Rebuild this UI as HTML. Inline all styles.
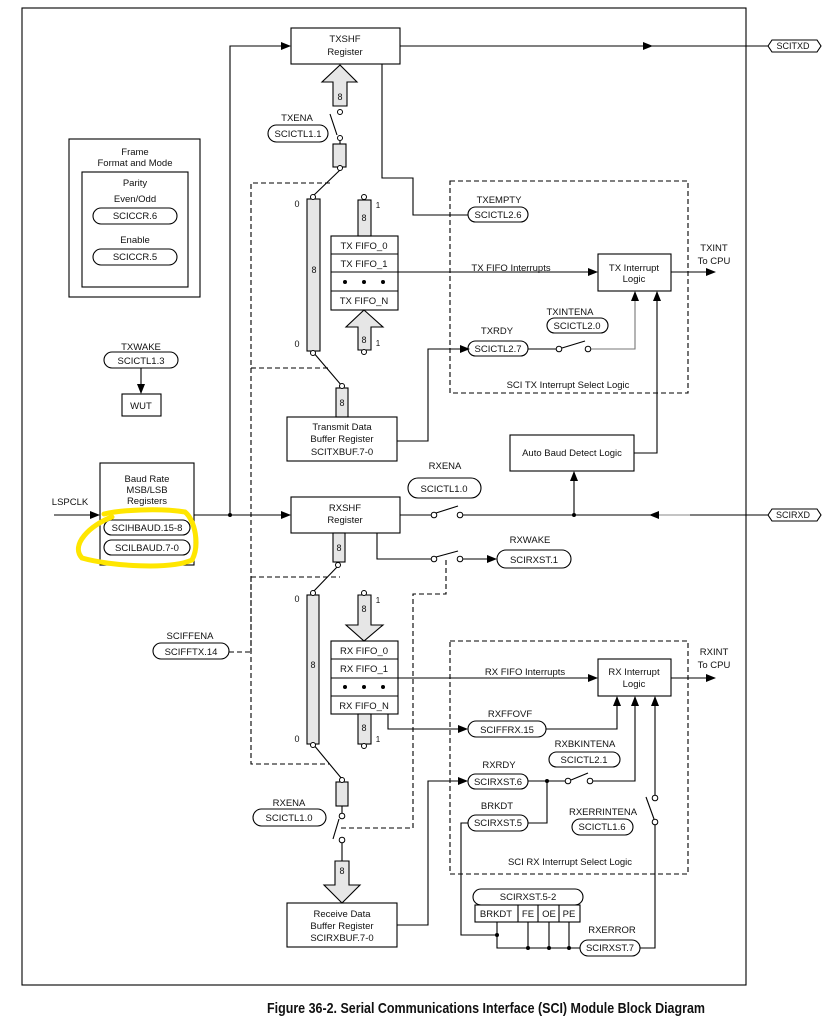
<!DOCTYPE html>
<html><head><meta charset="utf-8"><style>
html,body{margin:0;padding:0;background:#fff;}
svg{display:block;font-family:"Liberation Sans",Arial,sans-serif;}
text{font-size:9.5px;fill:#111;text-anchor:middle;}
</style></head><body>
<svg width="825" height="1022" viewBox="0 0 825 1022" xmlns="http://www.w3.org/2000/svg">
<defs>
<marker id="a" markerWidth="10" markerHeight="8" refX="9" refY="4" orient="auto" markerUnits="userSpaceOnUse"><path d="M0,0 L10,4 L0,8 z" fill="#000"/></marker>
</defs>
<g fill="none" stroke="#000" stroke-width="1.1">
<!-- outer frame -->
<rect x="22" y="8" width="724" height="977"/>
<!-- frame format box -->
<rect x="69" y="139" width="131" height="158"/>
<rect x="82" y="172" width="106" height="115"/>
<rect x="93" y="208" width="84" height="16" rx="8"/>
<rect x="93" y="249" width="84" height="16" rx="8"/>
<rect x="104" y="352" width="74" height="16" rx="8"/>
<line x1="141" y1="368" x2="141" y2="393" marker-end="url(#a)"/>
<rect x="122" y="394" width="39" height="22"/>
<!-- baud -->
<rect x="100" y="463" width="94" height="102"/>
<rect x="104" y="520" width="86" height="15" rx="7.5"/>
<rect x="104" y="540" width="86" height="15" rx="7.5"/>
<line x1="54" y1="515" x2="99" y2="515" marker-end="url(#a)"/>
<line x1="194" y1="515" x2="290" y2="515" marker-end="url(#a)"/>
<path d="M230 515 V46 H290" marker-end="url(#a)"/>
<!-- TXSHF -->
<rect x="291" y="28" width="109" height="36"/>
<line x1="400" y1="46" x2="652" y2="46" marker-end="url(#a)"/>
<line x1="650" y1="46" x2="768" y2="46"/>
<path d="M768 46 L772 40 H817 L821 46 L817 52 H772 Z"/>
<!-- TX to TXEMPTY -->
<path d="M382 64 V178 H413 V215 H468"/>
<rect x="468" y="207" width="60" height="15" rx="7.5"/>
<!-- TXENA pill -->
<rect x="268" y="125" width="60" height="17" rx="8.5"/>
<!-- switch -->
<line x1="330" y1="114" x2="337" y2="135"/>
<rect x="333" y="144" width="13" height="23" fill="#e6e6e6"/>
<line x1="340" y1="141" x2="340" y2="144"/>
<line x1="340" y1="170" x2="313" y2="196"/>
<!-- tall TX bar -->
<rect x="307" y="199" width="13" height="152" fill="#e6e6e6"/>
<line x1="313" y1="352" x2="342" y2="386"/>
<rect x="336" y="388" width="12" height="29" fill="#e6e6e6"/>
<rect x="287" y="417" width="110" height="44"/>
<path d="M397 441 H428 V349 H469" marker-end="url(#a)"/>
<!-- TX fifo -->
<rect x="358" y="200" width="13" height="36" fill="#e6e6e6"/>
<rect x="331" y="236" width="67" height="74"/>
<line x1="331" y1="254" x2="398" y2="254"/><line x1="331" y1="272" x2="398" y2="272"/><line x1="331" y1="291" x2="398" y2="291"/>
<path d="M364 310 L383 327 H371 V350 H358 V327 H346 Z" fill="#e6e6e6"/>
<path d="M340 65 L357 82 H347 V106 H333 V82 H322 Z" fill="#e6e6e6"/>
<!-- TX dashed -->
<g stroke-dasharray="5,3">
<path d="M330 183 H251 V652"/>
<path d="M251 368 H330"/>
<rect x="450" y="181" width="238" height="212"/>
<path d="M251 577 H340"/>
<path d="M251 577 V764 H330"/>
<path d="M229 652 H251"/>
<path d="M446 560 V594 H413 V828 H338"/>
<rect x="450" y="641" width="238" height="233"/>
</g>
<line x1="398" y1="272" x2="597" y2="272" marker-end="url(#a)"/>
<rect x="598" y="254" width="73" height="37"/>
<line x1="671" y1="272" x2="715" y2="272" marker-end="url(#a)"/>
<rect x="547" y="318" width="61" height="15" rx="7.5"/>
<rect x="468" y="341" width="60" height="15" rx="7.5"/>
<line x1="528" y1="349" x2="557" y2="349"/>
<line x1="562" y1="348" x2="585" y2="341"/>
<path d="M590 349 H635 V292" stroke="#777" marker-end="url(#a)"/>
<rect x="510" y="435" width="124" height="36"/>
<path d="M634 453 H657 V292" marker-end="url(#a)"/>
<line x1="574" y1="515" x2="574" y2="472" marker-end="url(#a)"/>
<!-- RXSHF -->
<rect x="291" y="497" width="109" height="36"/>
<rect x="408" y="478" width="73" height="20" rx="10"/>
<line x1="400" y1="515" x2="432" y2="515"/>
<line x1="436" y1="513" x2="458" y2="506"/>
<line x1="462" y1="515" x2="768" y2="515"/>
<line x1="690" y1="515" x2="650" y2="515" stroke="#888" marker-end="url(#a)"/>
<path d="M768 515 L772 509 H817 L821 515 L817 521 H772 Z"/>
<path d="M377 533 V559 H431"/>
<line x1="436" y1="557" x2="458" y2="551"/>
<line x1="463" y1="559" x2="496" y2="559" marker-end="url(#a)"/>
<rect x="497" y="550" width="74" height="18" rx="9"/>
<rect x="333" y="533" width="12" height="29" fill="#e6e6e6"/>
<line x1="338" y1="566" x2="313" y2="592"/>
<rect x="307" y="595" width="12" height="149" fill="#e6e6e6"/>
<rect x="153" y="643" width="76" height="16" rx="8"/>
<path d="M364 595 V595 M358 595 H371 V625 H383 L364 641 L346 625 H358 Z" fill="#e6e6e6"/>
<rect x="331" y="641" width="67" height="73"/>
<line x1="331" y1="659" x2="398" y2="659"/><line x1="331" y1="678" x2="398" y2="678"/><line x1="331" y1="696" x2="398" y2="696"/>
<rect x="358" y="714" width="13" height="30" fill="#e6e6e6"/>
<line x1="398" y1="678" x2="597" y2="678" marker-end="url(#a)"/>
<rect x="598" y="659" width="73" height="37"/>
<line x1="671" y1="678" x2="715" y2="678" marker-end="url(#a)"/>
<path d="M388 714 V729 H467" marker-end="url(#a)"/>
<rect x="468" y="721" width="78" height="16" rx="8"/>
<path d="M546 729 H617 V697" marker-end="url(#a)"/>
<rect x="549" y="752" width="71" height="15" rx="7.5"/>
<rect x="468" y="774" width="60" height="15" rx="7.5"/>
<path d="M528 781 H565"/>
<line x1="571" y1="780" x2="588" y2="773"/>
<path d="M593 781 H635 V697" marker-end="url(#a)"/>
<path d="M547 781 V823 H528"/>
<rect x="468" y="815" width="60" height="16" rx="8"/>
<rect x="572" y="819" width="61" height="16" rx="8"/>
<path d="M655 795 V697" marker-end="url(#a)"/>
<line x1="646" y1="797" x2="654" y2="819"/>
<path d="M655 825 V948 H640"/>
<rect x="580" y="940" width="60" height="16" rx="8"/>
<path d="M397 925 H428 V781 H467" marker-end="url(#a)"/>
<path d="M468 823 H461 V935 H497"/>
<rect x="473" y="889" width="110" height="16" rx="8"/>
<rect x="475" y="905" width="105" height="17"/>
<line x1="518" y1="905" x2="518" y2="922"/><line x1="538" y1="905" x2="538" y2="922"/><line x1="559" y1="905" x2="559" y2="922"/>
<path d="M497 922 V948 H580 M528 922 V948 M549 922 V948 M569 922 V948"/>
<!-- RX lower switch -->
<line x1="313" y1="744" x2="342" y2="779"/>
<rect x="336" y="782" width="12" height="24" fill="#e6e6e6"/>
<line x1="342" y1="806" x2="342" y2="813"/>
<line x1="333" y1="839" x2="339" y2="819"/>
<line x1="342" y1="843" x2="342" y2="861"/>
<rect x="253" y="809" width="73" height="17" rx="8.5"/>
<path d="M335 861 H349 V885 H360 L342 903 L324 885 H335 Z" fill="#e6e6e6"/>
<rect x="287" y="903" width="110" height="44"/>
</g>
<!-- small circles -->
<g fill="#fff" stroke="#000" stroke-width="1">
<circle cx="340" cy="112" r="2.5"/><circle cx="340" cy="138" r="2.5"/><circle cx="340" cy="168" r="2.5"/>
<circle cx="313" cy="197" r="2.5"/><circle cx="313" cy="353" r="2.5"/><circle cx="342" cy="386" r="2.5"/>
<circle cx="364" cy="197" r="2.5"/><circle cx="364" cy="352" r="2.5"/>
<circle cx="559" cy="349" r="2.8"/><circle cx="588" cy="349" r="2.8"/>
<circle cx="434" cy="515" r="2.8"/><circle cx="460" cy="515" r="2.8"/>
<circle cx="434" cy="559" r="2.8"/><circle cx="460" cy="559" r="2.8"/>
<circle cx="338" cy="565" r="2.5"/><circle cx="313" cy="593" r="2.5"/>
<circle cx="364" cy="593" r="2.5"/><circle cx="364" cy="746" r="2.5"/>
<circle cx="313" cy="745" r="2.5"/><circle cx="342" cy="780" r="2.5"/>
<circle cx="342" cy="816" r="2.8"/><circle cx="342" cy="840" r="2.8"/>
<circle cx="568" cy="781" r="2.8"/><circle cx="590" cy="781" r="2.8"/>
<circle cx="655" cy="798" r="2.8"/><circle cx="655" cy="822" r="2.8"/>
</g>
<g fill="#000">
<circle cx="230" cy="515" r="2"/><circle cx="574" cy="515" r="2"/><circle cx="547" cy="781" r="2"/>
<circle cx="497" cy="935" r="2"/><circle cx="528" cy="948" r="2"/><circle cx="549" cy="948" r="2"/><circle cx="569" cy="948" r="2"/>
<circle cx="345" cy="282" r="2"/><circle cx="364" cy="282" r="2"/><circle cx="383" cy="282" r="2"/>
<circle cx="345" cy="687" r="2"/><circle cx="364" cy="687" r="2"/><circle cx="383" cy="687" r="2"/>
</g>
<!-- yellow highlight -->
<path d="M112 517 C90 525 70 545 82 558 C110 566 170 570 192 560 C200 545 195 520 185 512 C160 508 120 510 104 514" fill="none" stroke="#ffe600" stroke-width="5" stroke-linecap="round"/>
<!-- texts -->
<text x="345" y="42">TXSHF</text><text x="345" y="55">Register</text>
<text x="793" y="49" style="font-size:9px">SCITXD</text>
<text x="793" y="518" style="font-size:9px">SCIRXD</text>
<text x="340" y="100" style="font-size:9px">8</text>
<text x="297" y="121">TXENA</text><text x="298" y="137">SCICTL1.1</text>
<text x="135" y="155">Frame</text><text x="135" y="166">Format and Mode</text>
<text x="135" y="186">Parity</text><text x="135" y="202">Even/Odd</text>
<text x="135" y="219">SCICCR.6</text><text x="135" y="243">Enable</text><text x="135" y="260">SCICCR.5</text>
<text x="141" y="350">TXWAKE</text><text x="141" y="364">SCICTL1.3</text><text x="141" y="409">WUT</text>
<text x="297" y="207" style="font-size:9px">0</text><text x="297" y="347" style="font-size:9px">0</text>
<text x="314" y="273" style="font-size:9px">8</text>
<text x="364" y="221" style="font-size:9px">8</text><text x="378" y="208" style="font-size:8px">1</text>
<text x="364" y="249">TX FIFO_0</text><text x="364" y="267">TX FIFO_1</text><text x="364" y="304">TX FIFO_N</text>
<text x="364" y="343" style="font-size:9px">8</text><text x="378" y="346" style="font-size:8px">1</text>
<text x="342" y="406" style="font-size:9px">8</text>
<text x="342" y="430">Transmit Data</text><text x="342" y="442">Buffer Register</text><text x="342" y="455">SCITXBUF.7-0</text>
<text x="499" y="203">TXEMPTY</text><text x="498" y="218">SCICTL2.6</text>
<text x="511" y="271">TX FIFO Interrupts</text>
<text x="634" y="271">TX Interrupt</text><text x="634" y="282">Logic</text>
<text x="714" y="251">TXINT</text><text x="714" y="264">To CPU</text>
<text x="570" y="315">TXINTENA</text><text x="577" y="329">SCICTL2.0</text>
<text x="497" y="334">TXRDY</text><text x="498" y="352">SCICTL2.7</text>
<text x="568" y="388">SCI TX Interrupt Select Logic</text>
<text x="572" y="456">Auto Baud Detect Logic</text>
<text x="70" y="505">LSPCLK</text>
<text x="147" y="482">Baud Rate</text><text x="147" y="493">MSB/LSB</text><text x="147" y="504">Registers</text>
<text x="147" y="531">SCIHBAUD.15-8</text><text x="147" y="551">SCILBAUD.7-0</text>
<text x="345" y="511">RXSHF</text><text x="345" y="523">Register</text>
<text x="445" y="469">RXENA</text><text x="444" y="492">SCICTL1.0</text>
<text x="530" y="543">RXWAKE</text><text x="534" y="563">SCIRXST.1</text>
<text x="339" y="551" style="font-size:9px">8</text>
<text x="297" y="602" style="font-size:9px">0</text><text x="297" y="742" style="font-size:9px">0</text>
<text x="313" y="668" style="font-size:9px">8</text>
<text x="364" y="612" style="font-size:9px">8</text><text x="378" y="603" style="font-size:8px">1</text>
<text x="190" y="639">SCIFFENA</text><text x="191" y="655">SCIFFTX.14</text>
<text x="364" y="654">RX FIFO_0</text><text x="364" y="672">RX FIFO_1</text><text x="364" y="709">RX FIFO_N</text>
<text x="364" y="731" style="font-size:9px">8</text><text x="378" y="742" style="font-size:8px">1</text>
<text x="525" y="675">RX FIFO Interrupts</text>
<text x="634" y="675">RX Interrupt</text><text x="634" y="687">Logic</text>
<text x="714" y="655">RXINT</text><text x="714" y="668">To CPU</text>
<text x="510" y="717">RXFFOVF</text><text x="507" y="733">SCIFFRX.15</text>
<text x="585" y="747">RXBKINTENA</text><text x="584" y="763">SCICTL2.1</text>
<text x="499" y="768">RXRDY</text><text x="498" y="785">SCIRXST.6</text>
<text x="497" y="809">BRKDT</text><text x="498" y="826">SCIRXST.5</text>
<text x="603" y="815">RXERRINTENA</text><text x="602" y="830">SCICTL1.6</text>
<text x="570" y="865">SCI RX Interrupt Select Logic</text>
<text x="289" y="806">RXENA</text><text x="289" y="821">SCICTL1.0</text>
<text x="342" y="874" style="font-size:9px">8</text>
<text x="342" y="917">Receive Data</text><text x="342" y="929">Buffer Register</text><text x="342" y="941">SCIRXBUF.7-0</text>
<text x="528" y="900">SCIRXST.5-2</text>
<text x="496" y="917">BRKDT</text><text x="528" y="917">FE</text><text x="549" y="917">OE</text><text x="569" y="917">PE</text>
<text x="612" y="933">RXERROR</text><text x="610" y="951">SCIRXST.7</text>
<text x="486" y="1013" style="font-size:15px;font-weight:bold" textLength="438" lengthAdjust="spacingAndGlyphs" x="267" text-anchor="start">Figure 36-2. Serial Communications Interface (SCI) Module Block Diagram</text>
</g>
</svg>
</body></html>
